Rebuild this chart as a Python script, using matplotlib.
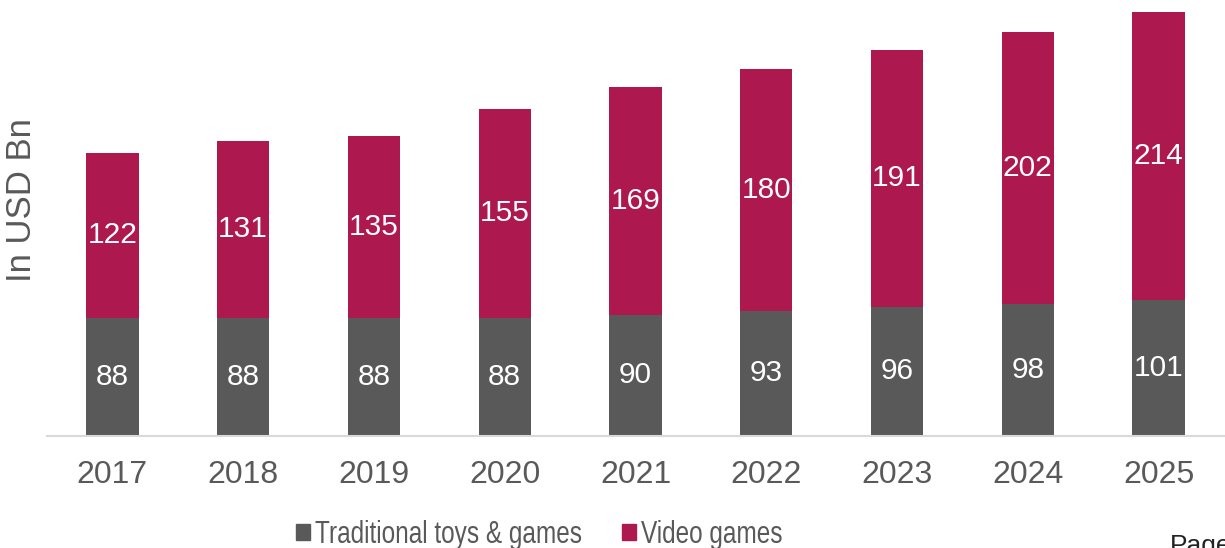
import matplotlib
matplotlib.use("Agg")
import matplotlib.pyplot as plt
from matplotlib.patches import Patch
from matplotlib import font_manager

years = ["2017", "2018", "2019", "2020", "2021", "2022", "2023", "2024", "2025"]
traditional = [88, 88, 88, 88, 90, 93, 96, 98, 101]
video = [122, 131, 135, 155, 169, 180, 191, 202, 214]

GRAY = "#595959"
MAGENTA = "#AD194E"
TEXT = "#595959"

plt.rcParams["font.family"] = ["Liberation Sans", "DejaVu Sans"]


def condensed_font(family, scale_x, new_name, path):
    """Build a horizontally condensed copy of an installed TrueType font."""
    from fontTools.ttLib import TTFont
    src = font_manager.findfont(font_manager.FontProperties(family=family))
    f = TTFont(src)
    glyf = f["glyf"]
    for gname in f.getGlyphOrder():
        g = glyf[gname]
        if g.isComposite():
            for c in g.components:
                c.x = int(round(c.x * scale_x))
        elif g.numberOfContours > 0:
            g.coordinates.scale((scale_x, 1))
            g.coordinates.toInt()
            g.recalcBounds(glyf)
    hmtx = f["hmtx"]
    for gname, (adv, lsb) in list(hmtx.metrics.items()):
        hmtx.metrics[gname] = (int(round(adv * scale_x)), int(round(lsb * scale_x)))
    if "kern" in f:
        for sub in f["kern"].kernTables:
            if hasattr(sub, "kernTable"):
                for k in list(sub.kernTable):
                    sub.kernTable[k] = int(round(sub.kernTable[k] * scale_x))
    for tag in ("hdmx", "LTSH", "VDMX"):
        if tag in f:
            del f[tag]
    for rec in f["name"].names:
        if rec.nameID in (1, 4, 16):
            rec.string = new_name
        elif rec.nameID == 6:
            rec.string = new_name.replace(" ", "")
    f.save(path)
    font_manager.fontManager.addfont(path)
    return new_name


try:
    legend_family = [condensed_font("Liberation Sans", 0.80, "Legend Sans Condensed",
                                    "legend_condensed.ttf"), "Liberation Sans"]
except Exception:
    legend_family = ["Liberation Sans"]

W, H = 1225, 548
fig = plt.figure(figsize=(W / 100, H / 100), dpi=100)
ax = fig.add_axes([47 / W, (H - 436) / H, (1224 - 47) / W, 436 / H])

x = list(range(len(years)))
width = 0.40
ax.bar(x, traditional, width, color=GRAY)
ax.bar(x, video, width, bottom=traditional, color=MAGENTA)

for i in x:
    ax.text(i, traditional[i] / 2, str(traditional[i]), ha="center", va="center",
            color="white", fontsize=21.5)
    ax.text(i, traditional[i] + video[i] / 2, str(video[i]), ha="center", va="center",
            color="white", fontsize=21.5)

ax.set_xlim(-0.5, 8.5)
ax.set_ylim(0, 324)
ax.set_xticks(x)
ax.set_xticklabels(years, fontsize=23, color=TEXT)
ax.tick_params(axis="x", length=0, pad=17)
ax.set_yticks([])
for s in ["top", "right", "left"]:
    ax.spines[s].set_visible(False)
ax.spines["bottom"].set_color("#D9D9D9")
ax.spines["bottom"].set_linewidth(1.5)

fig.text(22 / W, 1 - 200 / H, "In USD Bn", rotation=90, ha="center", va="center",
         fontsize=25, color=TEXT)

handles = [Patch(color=GRAY), Patch(color=MAGENTA)]
leg = fig.legend(handles, ["Traditional toys & games", "Video games"],
                 loc="upper left", bbox_to_anchor=(296 / W, 1 - 520 / H),
                 ncol=2, frameon=False, handlelength=0.46, handleheight=0.46,
                 handletextpad=0.16, columnspacing=1.3,
                 borderpad=0, borderaxespad=0,
                 prop={"family": legend_family, "size": 22})
for t in leg.get_texts():
    t.set_color(TEXT)

fig.text(1170 / W, 1 - 534 / H, "Page", ha="left", va="top", fontsize=19, color="#222222")

fig.savefig("out.png", dpi=100)
